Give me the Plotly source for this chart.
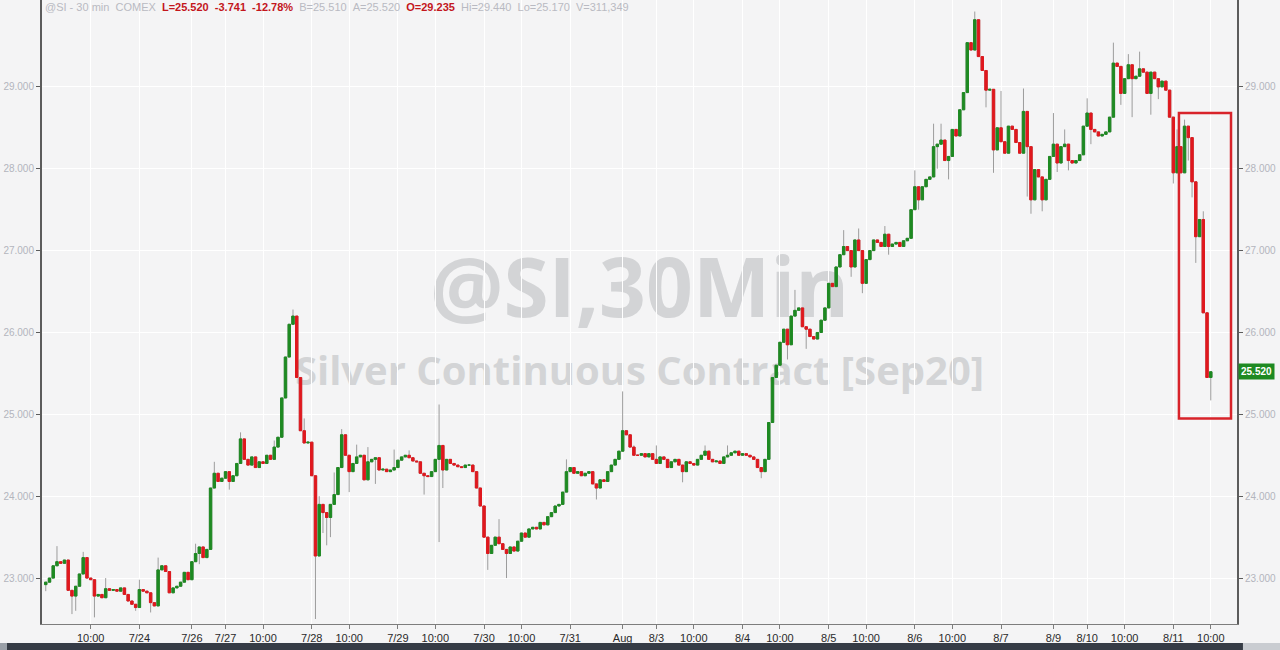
import pandas as pd
import plotly.graph_objects as go

# ---------------- data (hourly session bars, Pacific time) ----------------
close_0722 = [22.95, 23.00]
close_0723 = [23.15, 23.20, 23.18, 23.22, 22.85, 22.78, 22.90, 23.05, 23.25, 23.00, 22.98, 22.78, 22.80, 22.76,
              22.87, 22.85, 22.86, 22.84, 22.88, 22.80, 22.72, 22.68, 22.64]
close_0724 = [22.86, 22.84, 22.82, 22.70, 22.66, 23.10, 23.15, 23.08, 22.82, 22.88, 22.90, 22.95, 23.07, 22.98]
close_0726 = [23.20, 23.30, 23.38, 23.25, 23.35, 24.10, 24.28, 24.18, 24.22]
close_0727 = [24.30, 24.18, 24.25, 24.40, 24.70, 24.45, 24.38, 24.48, 24.35, 24.42, 24.40, 24.50, 24.45, 24.60,
              24.72, 25.20, 25.70, 26.10, 26.20, 25.45, 24.80, 24.65, 24.66]
close_0728 = [24.25, 23.27, 23.90, 23.80, 23.74, 23.90, 24.02, 24.35, 24.75, 24.50, 24.30, 24.40, 24.48, 24.50,
              24.20, 24.42, 24.45, 24.47, 24.32, 24.33, 24.30, 24.32, 24.35]
close_0729 = [24.44, 24.48, 24.50, 24.47, 24.43, 24.42, 24.28, 24.25, 24.24, 24.30, 24.45, 24.62, 24.32, 24.45,
              24.40, 24.38, 24.36, 24.35, 24.38, 24.38, 24.30, 24.10, 23.88]
close_0730 = [23.50, 23.30, 23.40, 23.50, 23.42, 23.35, 23.30, 23.38, 23.33, 23.45, 23.55, 23.50, 23.60, 23.62,
              23.60, 23.68, 23.65, 23.75, 23.80, 23.88, 23.90, 24.05, 24.30]
close_0731 = [24.35, 24.28, 24.30, 24.25, 24.28, 24.30, 24.15, 24.10, 24.20, 24.18, 24.30, 24.38, 24.45, 24.55]
close_0802 = [24.80, 24.75, 24.60, 24.50, 24.50, 24.52, 24.48, 24.52, 24.45]
close_0803 = [24.40, 24.48, 24.45, 24.35, 24.42, 24.45, 24.38, 24.30, 24.42, 24.40, 24.38, 24.45, 24.50, 24.55,
              24.45, 24.42, 24.43, 24.40, 24.48, 24.50, 24.53, 24.55, 24.50]
close_0804 = [24.52, 24.50, 24.48, 24.45, 24.35, 24.30, 24.45, 24.90, 25.45, 25.60, 25.88, 26.04, 25.85, 26.20,
              26.27, 26.30, 26.07, 26.04, 25.95, 25.92, 26.00, 26.15, 26.30]
close_0805 = [26.60, 26.56, 26.80, 26.95, 27.05, 27.00, 26.80, 27.13, 27.00, 26.60, 26.89, 27.00, 27.13, 27.10,
              27.05, 27.20, 27.05, 27.08, 27.10, 27.05, 27.12, 27.15, 27.50]
close_0806 = [27.78, 27.62, 27.78, 27.87, 27.90, 28.27, 28.30, 28.35, 28.10, 28.15, 28.48, 28.40, 28.72, 28.93,
              29.54, 29.45, 29.82, 29.37, 29.20, 28.96, 28.97, 28.23, 28.50]
close_0807 = [28.33, 28.19, 28.52, 28.48, 28.32, 28.19, 28.70, 28.27, 27.62, 27.99, 27.90, 27.62, 27.87, 28.15]
close_0809 = [28.30, 28.07, 28.27, 28.30, 28.10, 28.07, 28.10, 28.17, 28.52]
close_0810 = [28.68, 28.48, 28.45, 28.40, 28.42, 28.45, 28.63, 29.29, 29.25, 28.92, 29.10, 29.27, 29.10, 29.13,
              29.22, 29.18, 28.92, 29.18, 29.10, 29.00, 29.07, 28.96, 28.63]
close_0811 = [27.95, 28.27, 27.95, 28.52, 28.38, 27.84, 27.17, 27.38, 26.24, 25.45, 25.52]
first_open = 22.92

# visible wick extremes (bar number -> price)
wick_high = {3: 23.39, 10: 23.32, 16: 23.00, 25: 22.98, 30: 23.25, 40: 23.42, 45: 24.42, 52: 24.78, 61: 24.68,
             66: 26.28, 69: 24.95, 73: 24.00, 77: 24.29, 79: 24.82, 83: 24.63, 86: 24.60, 93: 24.57, 97: 24.56,
             105: 25.12, 121: 23.72, 139: 24.45, 154: 25.28, 157: 24.62, 163: 24.62, 176: 24.62, 182: 24.62,
             200: 26.52, 213: 27.25, 217: 27.27, 224: 27.30, 232: 27.98, 237: 28.55, 239: 28.55, 248: 29.92,
             255: 28.95, 261: 28.98, 269: 28.68, 272: 28.48, 278: 28.86, 285: 29.54, 289: 29.40, 292: 29.43,
             302: 28.48, 304: 28.60, 309: 27.48}
wick_low = {0: 22.84, 7: 22.56, 8: 22.60, 13: 22.52, 24: 22.60, 28: 22.58, 41: 23.17, 49: 24.08, 72: 22.50,
            74: 23.55, 75: 23.40, 76: 23.50, 81: 24.05, 88: 24.15, 101: 24.02, 105: 23.44, 106: 24.10, 118: 23.10,
            123: 23.00, 147: 23.96, 170: 24.17, 191: 24.22, 198: 25.67, 203: 25.80, 215: 26.68, 218: 26.48,
            225: 26.95, 233: 27.50, 238: 28.00, 241: 27.87, 251: 28.75, 253: 27.95, 262: 27.66, 263: 27.45,
            266: 27.48, 270: 27.96, 273: 27.98, 279: 28.30, 287: 28.78, 290: 28.63, 295: 28.66, 297: 28.85,
            301: 27.82, 305: 28.10, 306: 27.65, 307: 26.85, 311: 25.17}

tick_times = ["2020-07-23 10:00", "2020-07-24 00:00", "2020-07-26 15:00", "2020-07-27 00:00", "2020-07-27 10:00",
              "2020-07-28 00:00", "2020-07-28 10:00", "2020-07-29 00:00", "2020-07-29 10:00", "2020-07-30 00:00",
              "2020-07-30 10:00", "2020-07-31 00:00", "2020-08-02 15:00", "2020-08-03 00:00", "2020-08-03 10:00",
              "2020-08-04 00:00", "2020-08-04 10:00", "2020-08-05 00:00", "2020-08-05 10:00", "2020-08-06 00:00",
              "2020-08-06 10:00", "2020-08-07 00:00", "2020-08-09 15:00", "2020-08-10 00:00", "2020-08-10 10:00",
              "2020-08-11 00:00", "2020-08-11 10:00"]
tick_text = ["10:00", "7/24", "7/26", "7/27", "10:00", "7/28", "10:00", "7/29", "10:00", "7/30", "10:00", "7/31",
             "Aug", "8/3", "10:00", "8/4", "10:00", "8/5", "10:00", "8/6", "10:00", "8/7", "8/9", "8/10", "10:00",
             "8/11", "10:00"]
price_ticks = [23, 24, 25, 26, 27, 28, 29]
last_price = 25.52

header_grey = ["@SI - 30 min", "COMEX"]
header_red1 = ["L=25.520", "-3.741", "-12.78%"]
header_grey2 = ["B=25.510", "A=25.520"]
header_red2 = ["O=29.235"]
header_grey3 = ["Hi=29.440", "Lo=25.170", "V=311,349"]

# ---------------- assemble ----------------
closes = (close_0722 + close_0723 + close_0724 + close_0726 + close_0727 + close_0728 + close_0729 + close_0730
          + close_0731 + close_0802 + close_0803 + close_0804 + close_0805 + close_0806 + close_0807 + close_0809
          + close_0810 + close_0811)

rng = pd.date_range("2020-07-22 22:00", "2020-08-11 10:00", freq="h")


def in_session(t):
    wd = t.weekday()
    if t.hour == 14 or wd == 5:
        return False
    if wd == 4 and t.hour >= 15:
        return False
    if wd == 6 and t.hour < 15:
        return False
    return True


times = [t for t in rng if in_session(t)]
assert len(times) == len(closes), (len(times), len(closes))
xs = list(range(len(times)))
opens = [first_open] + closes[:-1]
body_top = [max(o, c) for o, c in zip(opens, closes)]
body_bot = [min(o, c) for o, c in zip(opens, closes)]
highs = [max(wick_high.get(i, body_top[i]), body_top[i]) for i in xs]
lows = [min(wick_low.get(i, body_bot[i]), body_bot[i]) for i in xs]
tickvals = [times.index(pd.Timestamp(t)) for t in tick_times]

GREEN = "#1e8a22"
RED = "#e0181e"
WICK = "#9c9c9c"
BG = "#f4f4f5"
YLAB = "#b3b5bd"
AXIS = "#5c5c5c"

fig = go.Figure()
fig.add_trace(go.Candlestick(
    x=xs, open=opens, high=highs, low=lows, close=closes, whiskerwidth=0,
    increasing=dict(line=dict(color=WICK, width=1), fillcolor=WICK),
    decreasing=dict(line=dict(color=WICK, width=1), fillcolor=WICK),
    hoverinfo="skip", showlegend=False))
fig.add_trace(go.Candlestick(
    x=xs, open=opens, high=body_top, low=body_bot, close=closes, whiskerwidth=0,
    increasing=dict(line=dict(color=GREEN, width=1), fillcolor=GREEN),
    decreasing=dict(line=dict(color=RED, width=1), fillcolor=RED),
    hoverinfo="skip", showlegend=False))
fig.add_trace(go.Scatter(x=[xs[-1]], y=[last_price], yaxis="y2", mode="markers",
                         marker=dict(opacity=0), hoverinfo="skip", showlegend=False))

yrange = [22.439, 30.061]
xrange_ = [-1, 318]

sp = "&nbsp;&nbsp;"
header = (f"<span style='color:#b9bac2'>{sp.join(header_grey)}{sp}</span>"
          f"<b><span style='color:#c3161c'>{sp.join(header_red1)}</span></b>"
          f"<span style='color:#b9bac2'>{sp}{sp.join(header_grey2)}{sp}</span>"
          f"<b><span style='color:#c3161c'>{sp.join(header_red2)}</span></b>"
          f"<span style='color:#b9bac2'>{sp}{sp.join(header_grey3)}</span>")

fig.update_layout(
    width=1280, height=650,
    margin=dict(l=42, r=43, t=0, b=26),
    paper_bgcolor=BG, plot_bgcolor=BG,
    font=dict(family="Arial", size=11),
    boxgap=0.08,
    showlegend=False,
    xaxis=dict(range=xrange_, tickmode="array", tickvals=tickvals, ticktext=tick_text,
               showgrid=True, gridcolor="#ffffff", gridwidth=1, zeroline=False,
               showline=True, linecolor="#7d7d7d", linewidth=1,
               ticks="outside", ticklen=4, tickcolor="#7d7d7d",
               tickfont=dict(family="Arial", size=11, color="#2a2a2a"),
               rangeslider=dict(visible=False), fixedrange=True),
    yaxis=dict(range=yrange, tickmode="array", tickvals=price_ticks, tickformat=".3f",
               showgrid=True, gridcolor="#ffffff", gridwidth=1, zeroline=False,
               showline=True, linecolor=AXIS, linewidth=2,
               ticks="outside", ticklen=4, tickcolor=AXIS,
               tickfont=dict(family="Arial", size=10, color=YLAB), fixedrange=True),
    yaxis2=dict(range=yrange, overlaying="y", side="right", tickmode="array", tickvals=price_ticks,
                tickformat=".3f", showgrid=False, zeroline=False,
                showline=True, linecolor=AXIS, linewidth=2,
                ticks="outside", ticklen=4, tickcolor=AXIS,
                tickfont=dict(family="Arial", size=10, color=YLAB), fixedrange=True),
)

# watermark (below gridlines and candles)
fig.add_shape(type="rect", xref="paper", yref="paper", x0=0.40, x1=0.60, y0=0.50, y1=0.567,
              line=dict(width=0), fillcolor="rgba(0,0,0,0)", layer="below",
              label=dict(text="<b>@SI,30Min</b>", textposition="middle center",
                         font=dict(family="Open Sans", size=82, color="#d3d4d6")))
fig.add_shape(type="rect", xref="paper", yref="paper", x0=0.40, x1=0.60, y0=0.37, y1=0.437,
              line=dict(width=0), fillcolor="rgba(0,0,0,0)", layer="below",
              label=dict(text="<b>Silver Continuous Contract [Sep20]</b>", textposition="middle center",
                         font=dict(family="Open Sans", size=40, color="#d3d4d6")))

# highlight box
fig.add_shape(type="rect", xref="x", yref="y", x0=302.5, x1=316.4, y0=24.95, y1=28.68,
              line=dict(color="#d8232a", width=2.5), fillcolor="rgba(0,0,0,0)", layer="above")

# bottom bar
fig.add_shape(type="rect", xref="paper", yref="paper", x0=-0.0293, x1=1.005, y0=-0.0417, y1=-0.0304,
              line=dict(width=0), fillcolor="#363c46", layer="above")
fig.add_shape(type="rect", xref="paper", yref="paper", x0=-0.0352, x1=-0.0293, y0=-0.0417, y1=-0.0304,
              line=dict(width=0), fillcolor="#9aa0a8", layer="above")
fig.add_shape(type="rect", xref="paper", yref="paper", x0=1.005, x1=1.037, y0=-0.0417, y1=-0.0304,
              line=dict(width=0), fillcolor="#c9ccd1", layer="above")

# header line
fig.add_annotation(xref="paper", yref="paper", x=0, y=1, xanchor="left", yanchor="top", xshift=1, yshift=1,
                   text=header, showarrow=False, font=dict(family="Arial", size=11), align="left")

# last price tag
fig.add_annotation(xref="paper", yref="y", x=1, y=last_price, xanchor="left", xshift=1,
                   text=f"<b>{last_price:.3f}</b>", showarrow=False, bgcolor=GREEN, borderpad=2,
                   font=dict(family="Arial", size=10, color="#ffffff"))

fig.write_html("out.html", config={"displayModeBar": False},
               post_script="document.body.style.margin='0';")
